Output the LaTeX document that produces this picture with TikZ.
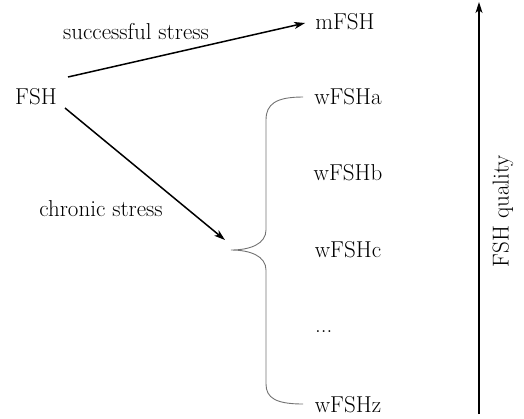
\documentclass[tikz,border=0pt]{standalone}
\usetikzlibrary{arrows.meta}
\begin{document}
\begin{tikzpicture}[x=1pt,y=-1pt,
  lbl/.style={font=\fontsize{23}{27}\selectfont, inner sep=0pt, anchor=center},
  arr/.style={line width=1.5pt, -{Stealth[length=11pt,width=7pt,inset=3pt]}},
  bracestyle/.style={draw=black!55, line width=0.9pt}]
\useasboundingbox (0,0) rectangle (524,418);
\node[lbl] (fsh) at (36,97) {FSH};
\node[lbl] (mfsh) at (345,22) {mFSH};
\node[lbl] (wa) at (348,97) {wFSHa};
\node[lbl] (wb) at (348,173) {wFSHb};
\node[lbl] (wc) at (348,250) {wFSHc};
\node[lbl, anchor=west] (wd) at (315,332) {...};
\node[lbl] (wz) at (348,405) {wFSHz};
\node[lbl] (ss) at (136,32) {successful stress};
\node[lbl] (cs) at (101,209) {chronic stress};
\coordinate (bt) at (231,250);
\coordinate (ct) at (225,240);
% brace
\path[bracestyle] (303,97) .. controls (276,97) and (266,104) .. (266,120)
  -- (266,230) .. controls (266,244) and (250,250) .. (bt)
  .. controls (250,250) and (266,256) .. (266,270)
  -- (266,384) .. controls (266,398) and (276,404) .. (303,404);
% arrows
\draw[arr] ([shift={(32,-20)}]fsh.center) -- ([xshift=-10pt,yshift=-1pt]mfsh.west);
\draw[arr] ([shift={(29,11)}]fsh.center) -- (ct);
% quality axis
\coordinate (qb) at (479,414);
\coordinate (qt) at (479,2);
\draw[arr] (qb) -- (qt);
\node[lbl, rotate=90] (q) at (503,211) {FSH quality};
\end{tikzpicture}
\end{document}
